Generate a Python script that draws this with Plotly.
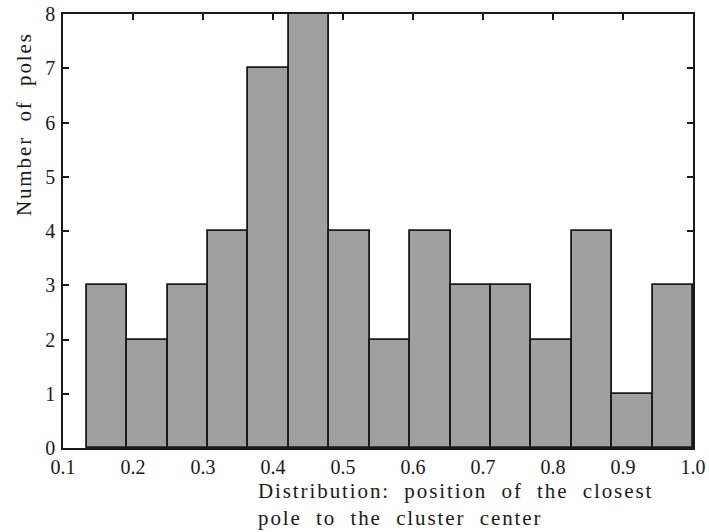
import numpy as np
import plotly.graph_objects as go

# Histogram counts per bin
counts = [3, 2, 3, 4, 7, 8, 4, 2, 4, 3, 3, 2, 4, 1, 3]
bin_start = 0.134
bin_end = 1.0
x_tick_vals = [0.1, 0.2, 0.3, 0.4, 0.5, 0.6, 0.7, 0.8, 0.9, 1.0]
x_tick_text = ["0.1", "0.2", "0.3", "0.4", "0.5", "0.6", "0.7", "0.8", "0.9", "1.0"]
y_tick_vals = [0, 1, 2, 3, 4, 5, 6, 7, 8]

n_bins = len(counts)
edges = np.linspace(bin_start, bin_end, n_bins + 1)
centers = (edges[:-1] + edges[1:]) / 2
width = edges[1] - edges[0]

serif = "Liberation Serif, Times New Roman, serif"
ink = "#1a1a1a"

fig = go.Figure()
fig.add_trace(go.Bar(
    x=centers,
    y=counts,
    width=width,
    marker=dict(color="#a0a0a0", line=dict(color=ink, width=1.8)),
    showlegend=False,
))

axis_style = dict(
    ticks="inside",
    ticklen=6,
    tickwidth=1.5,
    tickcolor=ink,
    showline=True,
    linecolor=ink,
    linewidth=1.6,
    mirror="allticks",
    showgrid=False,
    zeroline=False,
    layer="below traces",
    automargin=False,
    tickfont=dict(size=20),
)

fig.update_layout(
    width=709,
    height=532,
    margin=dict(l=63, r=16, t=14, b=84),
    paper_bgcolor="white",
    plot_bgcolor="white",
    font=dict(family=serif, size=20, color=ink),
    bargap=0,
    xaxis=dict(range=[0.1, 1.0], tickvals=x_tick_vals, ticktext=x_tick_text,
               ticklabelstandoff=0, **axis_style),
    yaxis=dict(range=[0, 8], tickvals=y_tick_vals, ticklabelstandoff=2,
               **axis_style),
)

fig.add_annotation(
    text="Distribution:  position  of  the  closest<br>pole  to  the  cluster  center",
    xref="paper", yref="paper",
    x=0.307, y=-0.066,
    xanchor="left", yanchor="top",
    align="left",
    showarrow=False,
    font=dict(family=serif, size=21, color=ink),
)

fig.add_annotation(
    text="Number  of  poles",
    xref="paper", yref="paper",
    x=-0.062, y=0.7465,
    xanchor="center", yanchor="middle",
    textangle=-90,
    showarrow=False,
    font=dict(family=serif, size=21, color=ink),
)

# widen the letter spacing of the axis captions
spacing_js = """
var gd = document.getElementById('{plot_id}');
gd.querySelectorAll('.annotation-text').forEach(function(t) {
    t.style.letterSpacing = '1.9px';
});
"""

fig.write_html("out.html", post_script=spacing_js)
